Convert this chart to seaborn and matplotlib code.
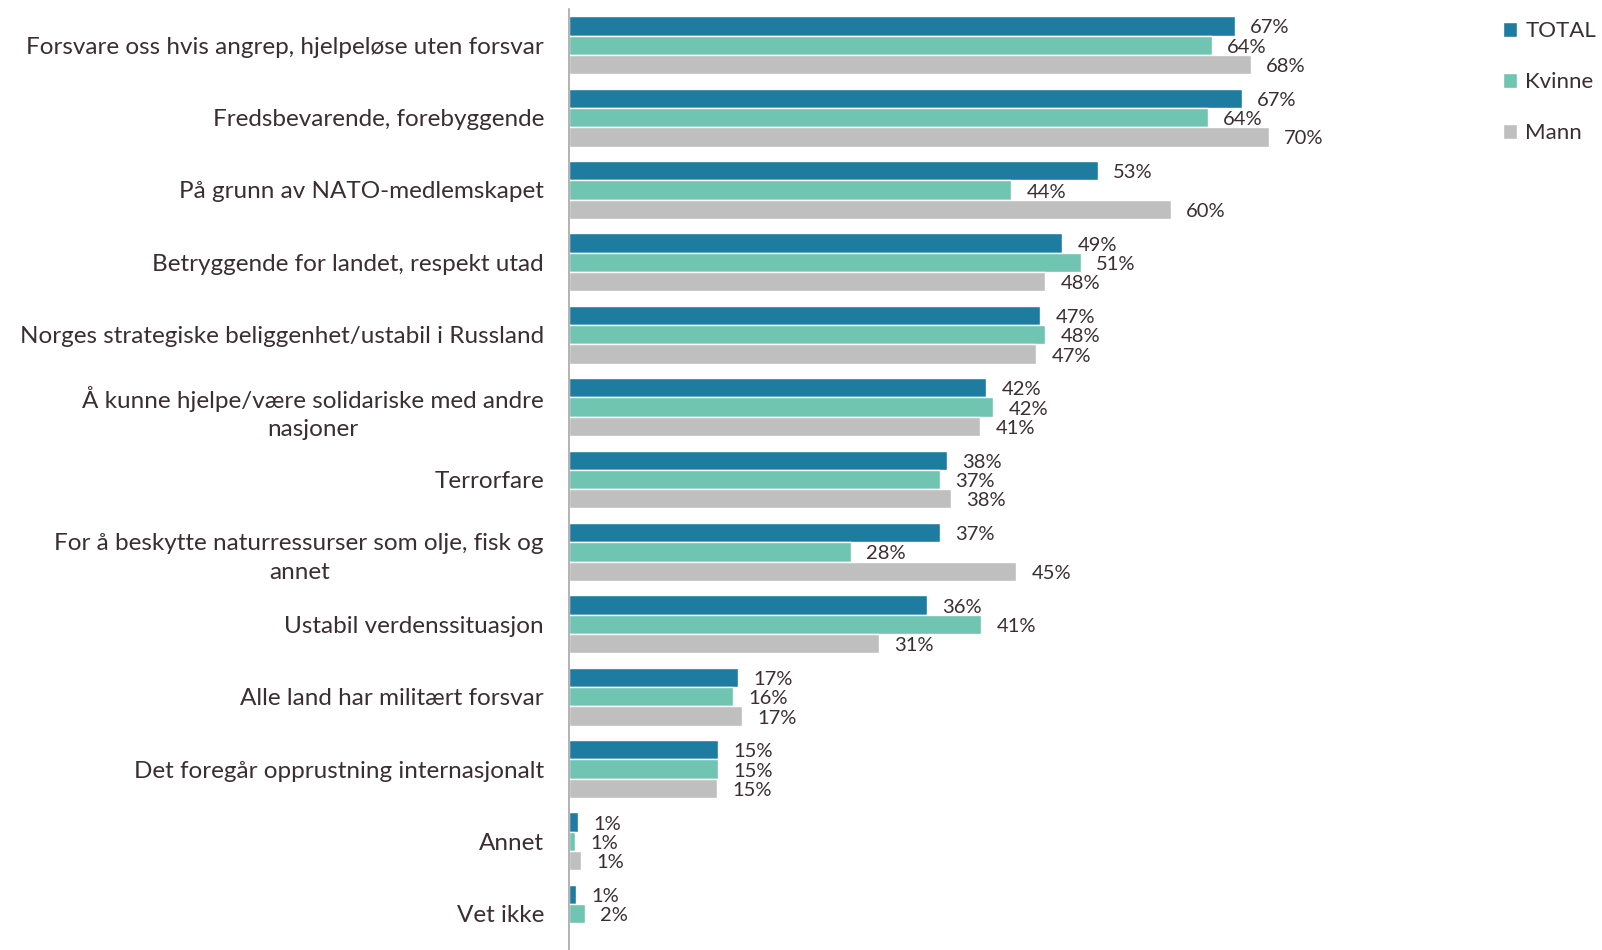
import matplotlib
matplotlib.use("Agg")
import matplotlib.pyplot as plt
import numpy as np
import pandas as pd
import seaborn as sns

categories = [
    "Forsvare oss hvis angrep, hjelpeløse uten forsvar",
    "Fredsbevarende, forebyggende",
    "På grunn av NATO-medlemskapet",
    "Betryggende for landet, respekt utad",
    "Norges strategiske beliggenhet/ustabil i Russland",
    "Å kunne hjelpe/være solidariske med andre\nnasjoner",
    "Terrorfare",
    "For å beskytte naturressurser som olje, fisk og\nannet",
    "Ustabil verdenssituasjon",
    "Alle land har militært forsvar",
    "Det foregår opprustning internasjonalt",
    "Annet",
    "Vet ikke",
]
total = [66.6, 67.3, 52.9, 49.3, 47.1, 41.7, 37.8, 37.1, 35.8, 16.9, 14.9, 0.9, 0.7]
kvinne = [64.3, 63.9, 44.2, 51.2, 47.6, 42.4, 37.1, 28.2, 41.2, 16.4, 14.9, 0.6, 1.6]
mann = [68.2, 70.0, 60.2, 47.6, 46.7, 41.1, 38.2, 44.7, 31.0, 17.3, 14.8, 1.2, np.nan]
groups = ["TOTAL", "Kvinne", "Mann"]
colors = ["#1f7ca1", "#70c4b2", "#bfbfbf"]

df = pd.DataFrame({
    "kategori": categories * 3,
    "gruppe": np.repeat(groups, len(categories)),
    "verdi": total + kvinne + mann,
}).dropna()

sns.set_style("white")
plt.rcParams["font.family"] = ["Lato", "DejaVu Sans"]
text_col = "#3a2e33"

fig = plt.figure(figsize=(16.02, 9.5), dpi=100)
ax = fig.add_axes([569 / 1602, 0.0, 900 / 1602, 941 / 950])

sns.barplot(data=df, y="kategori", x="verdi", hue="gruppe", order=categories,
            hue_order=groups, palette=colors, orient="h", width=0.8,
            saturation=1, errorbar=None, ax=ax)

# percent labels, nudged a bit down like the original
for c in ax.containers:
    texts = ax.bar_label(c, fmt="{:.0f}%", padding=11, fontsize=14.5, color=text_col)
    for t in texts:
        t.xyann = (t.xyann[0], t.xyann[1] - 1.5)

ax.set_xlim(0, 90)
ax.set_ylim(12.5, -0.5)
ax.set_xlabel("")
ax.set_ylabel("")
ax.set_xticks([])
ax.tick_params(axis="y", length=0, pad=18, labelsize=17.5, labelcolor=text_col)
for lab in ax.get_yticklabels():
    lab.set_multialignment("center")
    lab.set_linespacing(1.45)
for s in ["top", "right", "bottom"]:
    ax.spines[s].set_visible(False)
ax.spines["left"].set_color("#a6a6a6")
ax.spines["left"].set_linewidth(1.2)

handles, labels = ax.get_legend_handles_labels()
ax.get_legend().remove()
fig.legend(handles, labels, loc="upper left", bbox_to_anchor=(1483 / 1602, 1 - 1 / 950),
           frameon=False, handlelength=0.65, handleheight=0.65, handletextpad=0.35,
           labelspacing=1.4, fontsize=16, labelcolor=text_col)

fig.savefig("out.png", dpi=100)
